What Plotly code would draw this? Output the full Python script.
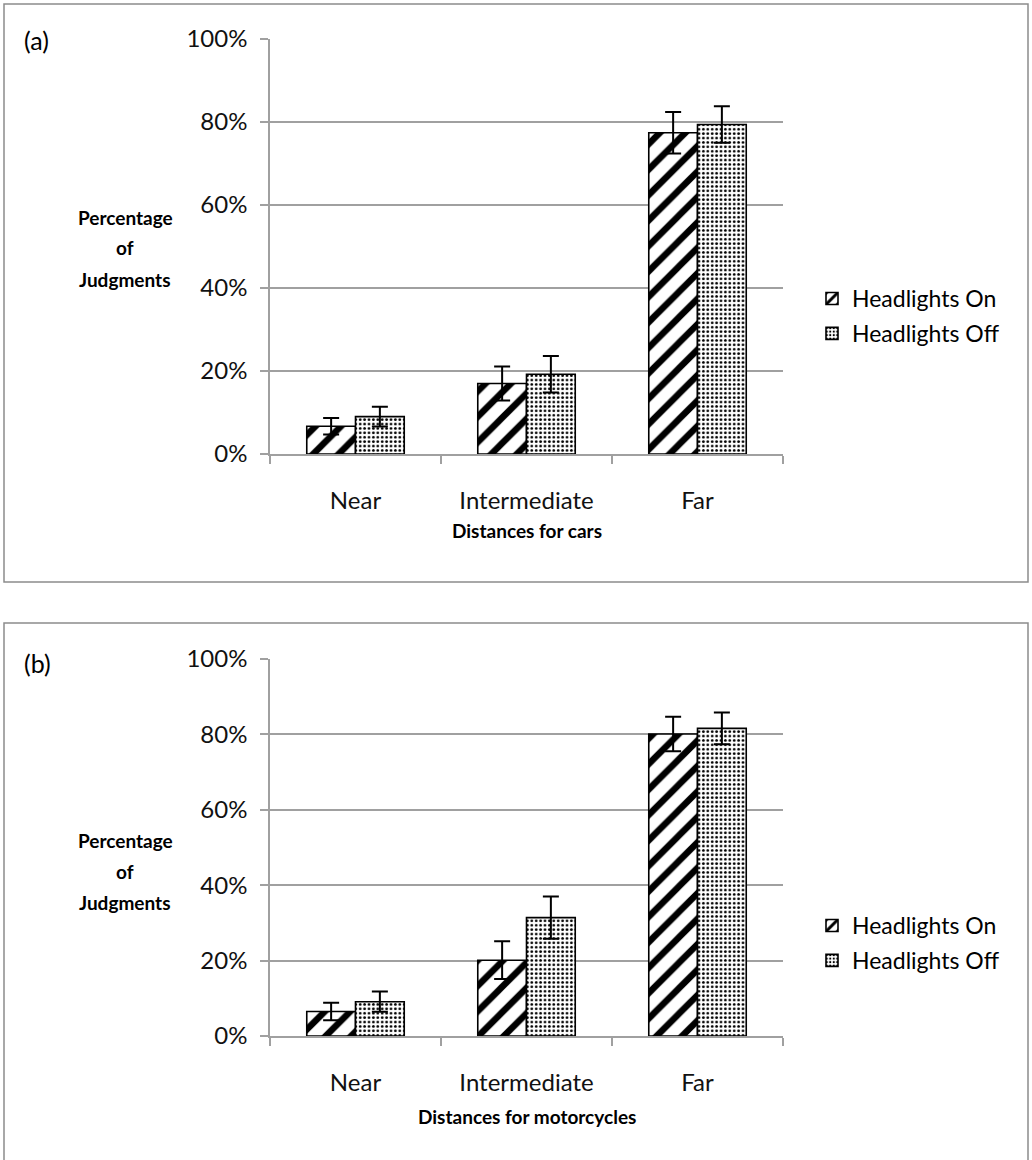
import plotly.graph_objects as go

W, H = 1032, 1160

categories = ["Near", "Intermediate", "Far"]
series_names = ["Headlights On", "Headlights Off"]

# Panel (a): cars
cars_on = [0.067, 0.170, 0.774]
cars_on_err = [0.020, 0.041, 0.050]
cars_off = [0.090, 0.192, 0.794]
cars_off_err = [0.024, 0.044, 0.044]

# Panel (b): motorcycles
moto_on = [0.065, 0.201, 0.801]
moto_on_err = [0.023, 0.050, 0.046]
moto_off = [0.091, 0.314, 0.816]
moto_off_err = [0.027, 0.056, 0.042]

y_ticks = [0, 0.2, 0.4, 0.6, 0.8, 1.0]

FONT = "Lato"
GRID = "#a0a0a0"

def px_x(p):
    return p / W

def px_y(p):
    return 1 - p / H

stripe = dict(shape="/", fgcolor="black", bgcolor="white", size=18, solidity=0.36, fillmode="replace")
dots = dict(shape=".", fgcolor="black", bgcolor="white", size=4.4, solidity=0.3, fillmode="replace")

fig = go.Figure()

def add_panel(on, on_err, off, off_err, xa, ya, legend):
    fig.add_trace(go.Bar(
        x=categories, y=on, name=series_names[0], xaxis=xa, yaxis=ya, legend=legend,
        legendgroup=legend + "on",
        marker=dict(color="white", line=dict(color="black", width=1.6), pattern=stripe),
        error_y=dict(type="data", array=on_err, color="black", thickness=2, width=8),
    ))
    fig.add_trace(go.Bar(
        x=categories, y=off, name=series_names[1], xaxis=xa, yaxis=ya, legend=legend,
        legendgroup=legend + "off",
        marker=dict(color="white", line=dict(color="black", width=1.6), pattern=dots),
        error_y=dict(type="data", array=off_err, color="black", thickness=2, width=8),
    ))

add_panel(cars_on, cars_on_err, cars_off, cars_off_err, "x", "y", "legend")
add_panel(moto_on, moto_on_err, moto_off, moto_off_err, "x2", "y2", "legend2")

xdom = [px_x(270), px_x(783)]
xaxis_common = dict(
    domain=xdom, showline=True, linecolor=GRID, linewidth=1.5, automargin=False,
    ticks="outside", tickson="boundaries", ticklen=8, tickcolor=GRID, tickwidth=1.5,
    tickfont=dict(family=FONT, size=24, color="#111"), ticklabelstandoff=24,
    showgrid=False, fixedrange=True,
)
yaxis_common = dict(
    range=[0, 1], tickvals=y_ticks, tickformat=".0%", automargin=False,
    showline=True, linecolor=GRID, linewidth=1.5,
    ticks="outside", ticklen=8, tickcolor=GRID, tickwidth=1.5,
    showgrid=True, gridcolor=GRID, gridwidth=1.5, zeroline=False,
    tickfont=dict(family=FONT, size=24, color="#111"), ticklabelstandoff=8,
    fixedrange=True,
)

fig.update_layout(
    template="none",
    width=W, height=H,
    margin=dict(l=0, r=0, t=0, b=0, pad=0, autoexpand=False),
    paper_bgcolor="white", plot_bgcolor="white",
    barmode="group", bargap=0.43, bargroupgap=0,
    font=dict(family=FONT, size=23, color="black"),
    xaxis=dict(anchor="y", **xaxis_common),
    yaxis=dict(anchor="x", domain=[px_y(454), px_y(39)], **yaxis_common),
    xaxis2=dict(anchor="y2", **xaxis_common),
    yaxis2=dict(anchor="x2", domain=[px_y(1036), px_y(659)], **yaxis_common),
    legend=dict(x=px_x(812), y=px_y(316), xanchor="left", yanchor="middle",
                font=dict(family=FONT, size=23, color="black"), tracegroupgap=2,
                bgcolor="rgba(0,0,0,0)", borderwidth=0),
    legend2=dict(x=px_x(812), y=px_y(943), xanchor="left", yanchor="middle",
                 font=dict(family=FONT, size=23, color="black"), tracegroupgap=2,
                 bgcolor="rgba(0,0,0,0)", borderwidth=0),
    showlegend=True,
)

shapes = []
for top, bottom in [(4, 582), (623, 1170)]:
    shapes.append(dict(type="rect", xref="paper", yref="paper",
                       x0=px_x(4), x1=px_x(1028), y0=px_y(bottom), y1=px_y(top),
                       line=dict(color="#8c8c8c", width=1.5), fillcolor="rgba(0,0,0,0)", layer="below"))
fig.update_layout(shapes=shapes)

annotations = []
def ann(text, x, y, size, bold=False, xanchor="center"):
    annotations.append(dict(
        text=f"<b>{text}</b>" if bold else text, xref="paper", yref="paper",
        x=px_x(x), y=px_y(y), xanchor=xanchor, yanchor="middle", showarrow=False,
        font=dict(family=FONT, size=size, color="black"),
    ))

for off, label, xtitle, ty in [(0, "(a)", "Distances for cars", 531),
                               (623, "(b)", "Distances for motorcycles", 1116)]:
    ann(label, 22, 40 + off, 25, xanchor="left")
    ann("Percentage", 125, 217 + off, 19, bold=True)
    ann("of", 125, 248 + off, 19, bold=True)
    ann("Judgments", 125, 279 + off, 19, bold=True)
    ann(xtitle, 527, ty, 19, bold=True)

fig.update_layout(annotations=annotations)

post = ("document.documentElement.style.margin='0';document.body.style.margin='0';"
        "document.body.style.overflow='hidden';document.documentElement.style.overflow='hidden';"
        "var gd=document.getElementById('{plot_id}');"
        "gd.style.position='fixed';gd.style.top='0px';gd.style.left='0px';")
fig.write_html("out.html", post_script=post, config={"displayModeBar": False})
